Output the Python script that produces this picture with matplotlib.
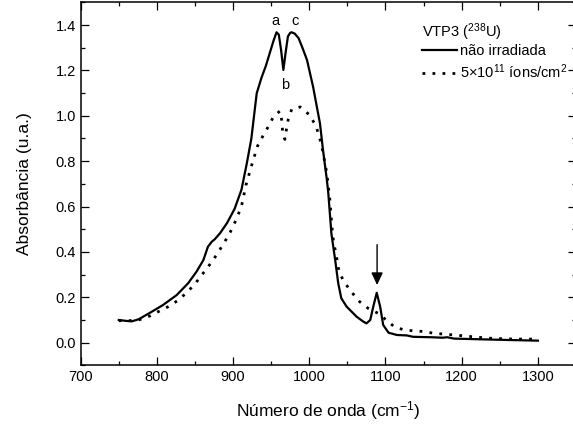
import matplotlib
matplotlib.use("Agg")
import matplotlib.pyplot as plt
from matplotlib.ticker import MultipleLocator

plt.rcParams['font.family'] = ['Liberation Sans', 'DejaVu Sans']
plt.rcParams['mathtext.fontset'] = 'custom'
plt.rcParams['mathtext.rm'] = 'Liberation Sans'

# não irradiada (linha cheia)
x_solid = [750, 760, 767, 776, 791, 808, 826, 841, 852, 861, 867, 872, 876, 883,
           892, 902, 911, 918, 924, 931, 937, 943, 948, 953, 957, 960, 963, 966,
           969, 972, 975, 977, 981, 986, 991, 997, 1005, 1014, 1018, 1023, 1025,
           1029, 1034, 1038, 1042, 1049, 1062, 1070, 1075, 1080, 1084, 1088.5,
           1093, 1097, 1104, 1115, 1128, 1136, 1160, 1175, 1181, 1190, 1224,
           1260, 1300]
y_solid = [0.100, 0.096, 0.094, 0.103, 0.132, 0.166, 0.210, 0.262, 0.313, 0.364,
           0.423, 0.445, 0.456, 0.483, 0.527, 0.590, 0.674, 0.790, 0.900, 1.099,
           1.165, 1.220, 1.275, 1.330, 1.368, 1.358, 1.290, 1.202, 1.280, 1.350,
           1.366, 1.368, 1.362, 1.342, 1.300, 1.246, 1.128, 0.967, 0.850, 0.720,
           0.658, 0.482, 0.364, 0.262, 0.196, 0.159, 0.115, 0.095, 0.085, 0.100,
           0.159, 0.220, 0.159, 0.078, 0.044, 0.034, 0.032, 0.026, 0.024, 0.022,
           0.024, 0.018, 0.015, 0.012, 0.009]

# 5x10^11 ions/cm^2 (pontilhada)
x_dot = [750, 763, 776, 789, 802, 815, 827, 839, 850, 860, 870, 879, 887, 895,
         904, 911, 917, 925, 932, 939, 946, 953, 961.5, 964, 965, 968, 970,
         972.5, 977, 988, 1000, 1009, 1016, 1023, 1027, 1030, 1032, 1035, 1039,
         1045.5, 1055, 1066, 1077, 1090, 1101, 1112, 1125, 1138, 1151, 1164,
         1177, 1190, 1203, 1215, 1228, 1241, 1268, 1300]
y_dot = [0.097, 0.097, 0.100, 0.115, 0.137, 0.159, 0.185, 0.220, 0.259, 0.303,
         0.347, 0.390, 0.434, 0.478, 0.542, 0.601, 0.696, 0.789, 0.866, 0.910,
         0.951, 0.996, 1.021, 0.978, 0.933, 0.896, 0.940, 0.986, 1.029, 1.039,
         1.005, 0.954, 0.873, 0.747, 0.630, 0.500, 0.440, 0.394, 0.313, 0.269,
         0.225, 0.181, 0.152, 0.130, 0.100, 0.069, 0.056, 0.052, 0.049, 0.041,
         0.038, 0.034, 0.030, 0.026, 0.022, 0.019, 0.016, 0.016]

fig = plt.figure(figsize=(5.73, 4.28), dpi=100)
ax = fig.add_axes([0.1408, 0.1463, 0.8644, 0.8482])

ax.plot(x_solid, y_solid, color='black', lw=1.6, label='não irradiada')
ax.plot(x_dot, y_dot, color='black', lw=2.0, linestyle=(0, (1, 2.6)),
        label='5×10$\\mathregular{^{11}}$ íons/cm$\\mathregular{^{2}}$')

ax.set_xlim(700, 1350)
ax.set_ylim(-0.1, 1.5)
ax.xaxis.set_major_locator(MultipleLocator(100))
ax.xaxis.set_minor_locator(MultipleLocator(50))
ax.yaxis.set_major_locator(MultipleLocator(0.2))
ax.yaxis.set_minor_locator(MultipleLocator(0.1))
ax.tick_params(which='both', direction='in', top=True, right=True,
               labelsize=10.5, width=0.9)
ax.tick_params(which='major', length=5.5)
ax.tick_params(which='minor', length=3)
for s in ax.spines.values():
    s.set_linewidth(1.1)

ax.set_xlabel('Número de onda (cm$\\mathregular{^{-1}}$)', fontsize=12.5, labelpad=11)
ax.set_ylabel('Absorbância (u.a.)', fontsize=12.5, labelpad=17)

ax.text(955, 1.42, 'a', fontsize=10.5, ha='center', va='center')
ax.text(981, 1.42, 'c', fontsize=10.5, ha='center', va='center')
ax.text(968, 1.135, 'b', fontsize=10.5, ha='center', va='center')

ax.annotate('', xy=(1089, 0.254), xytext=(1089, 0.432),
            arrowprops=dict(arrowstyle='-|>,head_length=0.75,head_width=0.35',
                            color='black', lw=1, shrinkA=0, shrinkB=0))

# legenda: titulo separado para controlar o espacamento
fig.text(0.736, 0.9128, 'VTP3 ($\\mathregular{^{238}}$U)', fontsize=10.5,
         ha='left', va='baseline')
leg = ax.legend(loc='upper left', bbox_to_anchor=(0.736, 0.898),
                bbox_transform=fig.transFigure, frameon=False, fontsize=10.5,
                borderpad=0, borderaxespad=0, handlelength=2.4,
                handletextpad=0.2, labelspacing=0.3)

fig.savefig('out.png', dpi=100)
